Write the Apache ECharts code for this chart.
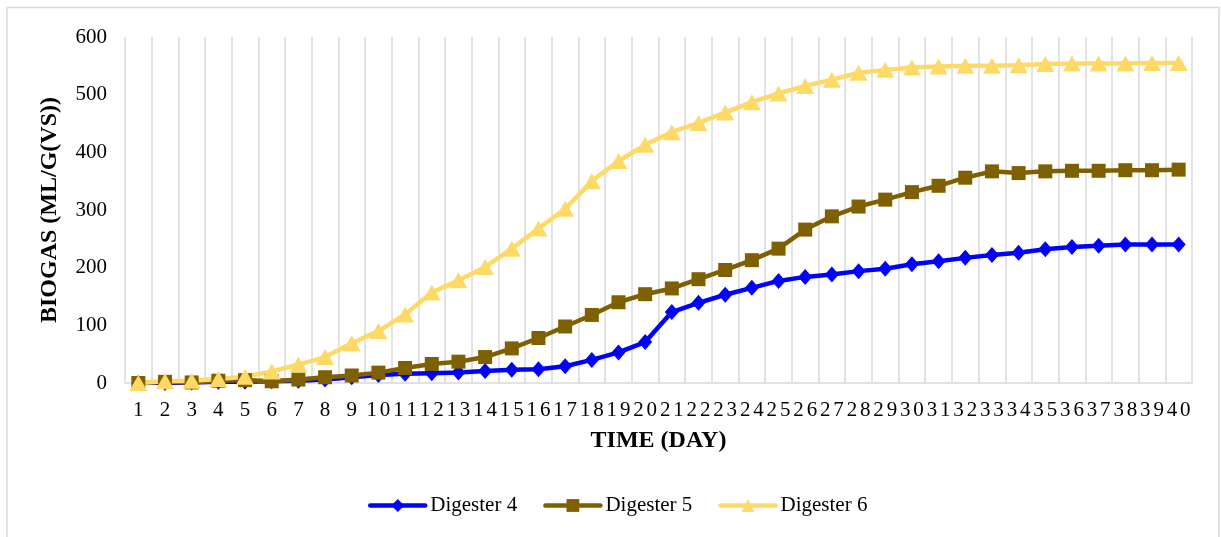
<!DOCTYPE html>
<html>
<head>
<meta charset="utf-8">
<script src="https://cdn.jsdelivr.net/npm/echarts@6/dist/echarts.min.js"></script>
<style>
html,body{margin:0;padding:0;background:#fff;}
#c{width:1221px;height:537px;}
</style>
</head>
<body>
<div id="c"></div>
<script>
var days = [];
for (var i = 1; i <= 40; i++) days.push(String(i));
var yTicks = [0, 100, 200, 300, 400, 500, 600];

var digester4 = [0, 0, 1, 2, 2, 3, 4, 6, 10, 14, 16, 17, 18, 21, 23, 24, 29, 40, 53, 71, 123, 139, 153, 165, 177, 184, 188, 194, 198, 206, 211, 217, 222, 226, 232, 236, 238, 240, 240, 240];
var digester5 = [0, 2, 1, 4, 5, 3, 6, 10, 13, 18, 26, 33, 37, 45, 60, 78, 98, 118, 140, 154, 164, 180, 196, 213, 233, 266, 289, 306, 318, 331, 342, 356, 367, 364, 367, 368, 368, 369, 369, 370];
var digester6 = [0, 3, 4, 7, 11, 20, 32, 45, 69, 90, 119, 157, 178, 201, 233, 268, 302, 350, 385, 413, 435, 451, 469, 487, 502, 515, 526, 538, 543, 547, 549, 550, 550, 551, 553, 554, 554, 554, 555, 555];

var FONT = 'Liberation Serif';
var chart = echarts.init(document.getElementById('c'), null, {renderer: 'canvas'});

function digitLabel(v) {
  return v.split('').map(function (d) { return '{d|' + d + '}'; }).join('');
}

var option = {
  backgroundColor: '#ffffff',
  animation: false,
  textStyle: {fontFamily: FONT, color: '#000'},
  graphic: [{
    type: 'rect',
    shape: {x: 7, y: 7.5, width: 1212, height: 540},
    style: {fill: 'none', stroke: '#d9d9d9', lineWidth: 1.5},
    silent: true
  }],
  grid: {left: 125, right: 29, top: 37, bottom: 154, containLabel: false},
  legend: {
    left: 363,
    top: 490,
    itemWidth: 55,
    itemHeight: 16,
    itemGap: 26,
    lineStyle: {width: 4.5, cap: 'round'},
    textStyle: {fontFamily: FONT, fontSize: 21, color: '#000'},
    data: ['Digester 4', 'Digester 5', 'Digester 6']
  },
  xAxis: {
    type: 'category',
    data: days,
    boundaryGap: true,
    name: 'TIME (DAY)',
    nameLocation: 'middle',
    nameGap: 46,
    nameTextStyle: {fontFamily: FONT, fontSize: 24, fontWeight: 'bold', color: '#000'},
    axisLine: {show: true, lineStyle: {color: '#d9d9d9', width: 1.5}},
    axisTick: {show: false},
    axisLabel: {
      interval: 0,
      margin: 17,
      formatter: digitLabel,
      rich: {d: {fontFamily: FONT, fontSize: 21, color: '#000', width: 13.34, align: 'center'}}
    },
    splitLine: {show: true, interval: 0, lineStyle: {color: '#d9d9d9', width: 1.5}}
  },
  yAxis: {
    type: 'value',
    min: 0,
    max: 600,
    interval: 100,
    name: 'BIOGAS (ML/G(VS))',
    nameLocation: 'middle',
    nameGap: 63,
    nameRotate: 90,
    nameTextStyle: {fontFamily: FONT, fontSize: 24, fontWeight: 'bold', color: '#000'},
    axisLine: {show: false},
    axisTick: {show: false},
    splitLine: {show: false},
    axisLabel: {
      margin: 18,
      fontFamily: FONT,
      fontSize: 21,
      color: '#000',
      formatter: function (v) { return yTicks.indexOf(v) >= 0 ? String(v) : ''; }
    }
  },
  series: [
    {
      name: 'Digester 4', type: 'line', data: digester4,
      symbol: 'diamond', symbolSize: [14, 16],
      lineStyle: {color: '#0000ff', width: 4.5},
      itemStyle: {color: '#0000ff'}
    },
    {
      name: 'Digester 5', type: 'line', data: digester5,
      symbol: 'rect', symbolSize: 14,
      lineStyle: {color: '#7f6000', width: 4.5},
      itemStyle: {color: '#7f6000'}
    },
    {
      name: 'Digester 6', type: 'line', data: digester6,
      symbol: 'triangle', symbolSize: [18, 16],
      lineStyle: {color: '#ffd966', width: 4.5},
      itemStyle: {color: '#ffd966'}
    }
  ]
};
chart.setOption(option);
</script>
</body>
</html>
